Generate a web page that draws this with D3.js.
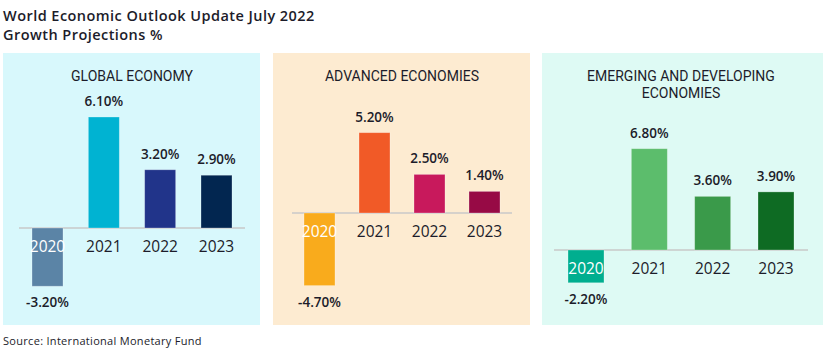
<!DOCTYPE html>
<html><head><meta charset="utf-8">
<script src="https://cdn.jsdelivr.net/npm/d3@7"></script>
<style>
body{margin:0;background:#fff;}
svg{display:block;}
</style></head>
<body>
<svg id="c" width="830" height="356"></svg>
<script>
const years = ["2020","2021","2022","2023"];
const panelTitles = [["GLOBAL ECONOMY"],["ADVANCED ECONOMIES"],["EMERGING AND DEVELOPING","ECONOMIES"]];
const globalValues = [-3.2, 6.1, 3.2, 2.9];
const advancedValues = [-4.7, 5.2, 2.5, 1.4];
const emergingValues = [-2.2, 6.8, 3.6, 3.9];
const globalColors = ["#5b84a6","#00b3d2","#21348a","#022650"];
const advancedColors = ["#f9ab1c","#f15a27","#c8195c","#970a45"];
const emergingColors = ["#00ae8f","#5cbd6c","#3a9a4a","#0e6b23"];
const panelBg = ["#d8f8fc","#fdebd1","#defaf4"];

const series = [globalValues, advancedValues, emergingValues];
const colors = [globalColors, advancedColors, emergingColors];

// layout per panel
const layout = [
  {x0:3, x1:260, base:228, ppu:18.2, bx0:19, bx1:245, band:[32,232], bw:31},
  {x0:273, x1:530, base:213, ppu:15.45, bx0:292, bx1:512, band:[304,500], bw:31},
  {x0:542, x1:823, base:250, ppu:14.9, bx0:554, bx1:808, band:[568,794], bw:36}
];

const svg = d3.select("#c");
const dark = "#1c1c2a";
const valFont = "'Open Sans', sans-serif";

svg.append("text").attr("x",3).attr("y",21).attr("font-family",valFont).attr("font-weight",600)
  .attr("font-size",14.5).attr("letter-spacing",0.45).attr("fill",dark).text("World Economic Outlook Update July 2022");
svg.append("text").attr("x",3).attr("y",40).attr("font-family",valFont).attr("font-weight",600)
  .attr("font-size",14.5).attr("letter-spacing",0.45).attr("fill",dark).text("Growth Projections %");
svg.append("text").attr("x",3).attr("y",345).attr("font-family",valFont).attr("font-weight",400)
  .attr("font-size",11).attr("letter-spacing",0.3).attr("fill",dark).text("Source: International Monetary Fund");

layout.forEach((L,i)=>{
  const g = svg.append("g");
  g.append("rect").attr("x",L.x0).attr("y",53).attr("width",L.x1-L.x0).attr("height",272).attr("fill",panelBg[i]);
  const cx = (L.bx0+L.bx1)/2;
  panelTitles[i].forEach((t,j)=>{
    g.append("text").attr("x",cx).attr("y",81+j*17).attr("text-anchor","middle")
      .attr("font-family","'Liberation Sans Narrow','Roboto',sans-serif").attr("font-size",14)
      .attr("fill",dark).text(t);
  });
  const vals = series[i];
  const y = d3.scaleLinear().domain([0,1]).range([L.base, L.base-L.ppu]);
  const x = d3.scalePoint().domain(years).range([L.band[0]+L.bw/2, L.band[1]-L.bw/2]);
  // baseline
  g.append("line").attr("x1",L.bx0).attr("x2",L.bx1).attr("y1",L.base).attr("y2",L.base)
    .attr("stroke","#c9c9c9").attr("stroke-width",1.5);
  years.forEach((yr,k)=>{
    const v = vals[k];
    const top = Math.min(y(v), y(0)), h = Math.abs(y(v)-y(0));
    g.append("rect").attr("x",x(yr)-L.bw/2).attr("y",top).attr("width",L.bw).attr("height",h)
      .attr("fill",colors[i][k]).attr("stroke","rgba(255,255,255,0.35)").attr("stroke-width",0.8);
    // value label
    const ly = v>=0 ? y(v)-11 : y(v)+21;
    g.append("text").attr("x",x(yr)).attr("y",ly).attr("text-anchor","middle")
      .attr("font-family",valFont).attr("font-weight",600).attr("font-size",13.5).attr("fill",dark)
      .text(v.toFixed(2)+"%");
    // year label
    g.append("text").attr("x",x(yr)).attr("y",L.base+23.5).attr("text-anchor","middle")
      .attr("font-family",valFont).attr("font-weight",500).attr("font-size",15.5)
      .attr("fill", v<0 ? "#ffffff" : dark).text(yr);
  });
});
</script>
</body></html>
